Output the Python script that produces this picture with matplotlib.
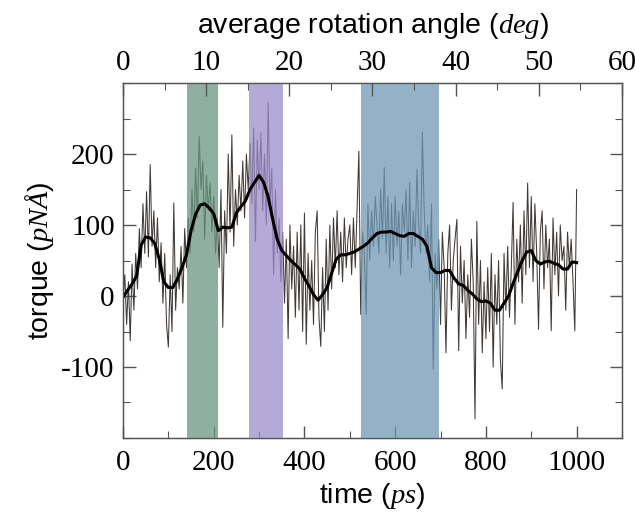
import numpy as np
import matplotlib
matplotlib.use("Agg")
import matplotlib.pyplot as plt
from matplotlib.ticker import MultipleLocator

plt.rcParams['axes.unicode_minus'] = False
plt.rcParams['mathtext.fontset'] = 'custom'
plt.rcParams['mathtext.it'] = 'Liberation Serif:italic'
plt.rcParams['mathtext.rm'] = 'Liberation Serif'

t_raw = np.arange(0, 1001, 4)
torque_raw = [
    -5, 30, -40, 20, -63, 45, -20, 60, 10, 95, 40, 130, 60, 147, 55, 185, 70, 120, 40, 110, 20, 75, -10, 60, -40,
    -72, 30, -50, 131, -20, 40, 10, 70, -10, 95, 40, 110, 60, 150, 90, 180, 110, 225, 150, 190, 80, 170, 120, 160, 90,
    140, 60, 110, 40, 150, -44, 120, 60, 200, 90, 227, 70, 150, 100, 170, 120, 190, 110, 200, 150, 215, 130, 237, 77, 220,
    150, 230, 120, 200, 100, 272, 130, 180, 30, 150, 60, 110, 20, 90, -10, 80, -60, 100, 10, 70, -30, 90, -20, 100, -50,
    117, -68, 60, -20, 50, -40, 90, 120, -30, -71, 40, -50, 80, -20, 100, 10, 110, 40, 120, 30, 90, 20, 110, 40, 80,
    100, 30, 110, 40, 120, 204, -26, 90, 60, -26, 130, 50, 120, 70, 140, 100, 60, 150, 80, 181, 60, 140, 40, 130, 50,
    140, 70, 120, 30, 130, 90, 150, 50, 160, 40, 120, 70, 178, 100, 60, 231, 120, 60, 100, 20, 130, -103, 60, 10, 80,
    -40, 90, 40, -80, 60, 100, -20, 50, 80, 108, -77, 70, -10, 50, -60, 30, -30, 80, 20, -173, 105, -40, 50, -80, 20,
    -60, 40, -50, 60, -100, 30, -40, 50, -90, -131, 60, -20, 70, -30, 40, 132, -40, 80, 20, 100, -10, 120, 30, 159, 40,
    140, 20, 130, 60, -47, 90, 120, 10, 100, 40, 80, -49, 110, 30, 90, 0, 100, 50, 70, -20, 90, 40, 80, 20, -49, 150,
]

# running average, every 10 ps
t_avg = np.arange(0, 1001, 10)
torque_avg = [
    -2, 8, 17, 28, 72, 83, 82, 74, 52, 20,
    12, 12, 24, 40, 58, 92, 115, 128, 130, 124,
    116, 92, 97, 96, 97, 117, 126, 134, 150, 160,
    170, 160, 140, 108, 80, 64, 57, 50, 44, 38,
    25, 14, 2, -6, 2, 12, 32, 52, 58, 58,
    60, 62, 66, 70, 75, 82, 88, 90, 90, 91,
    88, 85, 84, 88, 88, 84, 80, 70, 40, 33,
    33, 36, 36, 25, 17, 15, 8, 3, -4, -8,
    -7, -10, -20, -20, -10, 0, 18, 34, 50, 62,
    64, 50, 45, 48, 49, 46, 44, 38, 38, 48,
    47,
]

# shaded windows (ps) and their colours
band_start = [141, 277, 524]
band_end = [210, 353, 697]
band_colors = ['#6a9680', '#9b8eca', '#6f98b6']

TICK_FS = 21
LABEL_FS = 20.5

fig = plt.figure(figsize=(6.35, 5.13), dpi=100)
ax = fig.add_axes([0.1937, 0.1462, 0.7858, 0.692])

ax.plot(t_raw, torque_raw, color='#403a36', lw=0.75, zorder=2)
ax.plot(t_avg, torque_avg, color='black', lw=2.2, zorder=4)
for s, e, c in zip(band_start, band_end, band_colors):
    ax.axvspan(s, e, color=c, alpha=0.75, lw=0, zorder=3)

ax.set_xlim(0, 1100)
ax.set_ylim(-200, 300)
ax.xaxis.set_major_locator(MultipleLocator(200))
ax.xaxis.set_minor_locator(MultipleLocator(100))
ax.set_yticks([-100, 0, 100, 200])
ax.yaxis.set_minor_locator(MultipleLocator(50))

ax.tick_params(which='both', direction='in', top=False, right=True, color='#555555')
ax.tick_params(which='major', length=9, width=1.0)
ax.tick_params(axis='x', which='major', pad=9)
ax.tick_params(axis='y', which='major', pad=6)
ax.tick_params(which='minor', length=5, width=0.8)
for lab in ax.get_xticklabels() + ax.get_yticklabels():
    lab.set_fontfamily('Liberation Serif')
    lab.set_fontsize(TICK_FS)
for sp in ax.spines.values():
    sp.set_color('#555555')
    sp.set_linewidth(1.0)

ax.set_xlabel(r'time ($ps$)', family='Liberation Sans', fontsize=LABEL_FS, labelpad=3)
ax.set_ylabel('torque ($pNÅ$)', family='Liberation Sans', fontsize=LABEL_FS, labelpad=4)

# top axis: average rotation angle
ax2 = ax.twiny()
ax2.set_xlim(0, 60)
ax2.xaxis.set_major_locator(MultipleLocator(10))
ax2.xaxis.set_minor_locator(MultipleLocator(5))
ax2.tick_params(which='both', direction='in', color='#555555')
ax2.tick_params(which='major', length=9, width=1.0, pad=5)
ax2.tick_params(which='minor', length=5, width=0.8)
for lab in ax2.get_xticklabels():
    lab.set_fontfamily('Liberation Serif')
    lab.set_fontsize(TICK_FS)
for sp in ax2.spines.values():
    sp.set_color('#555555')
ax2.set_xlabel(r'average rotation angle ($deg$)', family='Liberation Sans', fontsize=LABEL_FS, labelpad=12)

fig.savefig('out.png', dpi=100)
